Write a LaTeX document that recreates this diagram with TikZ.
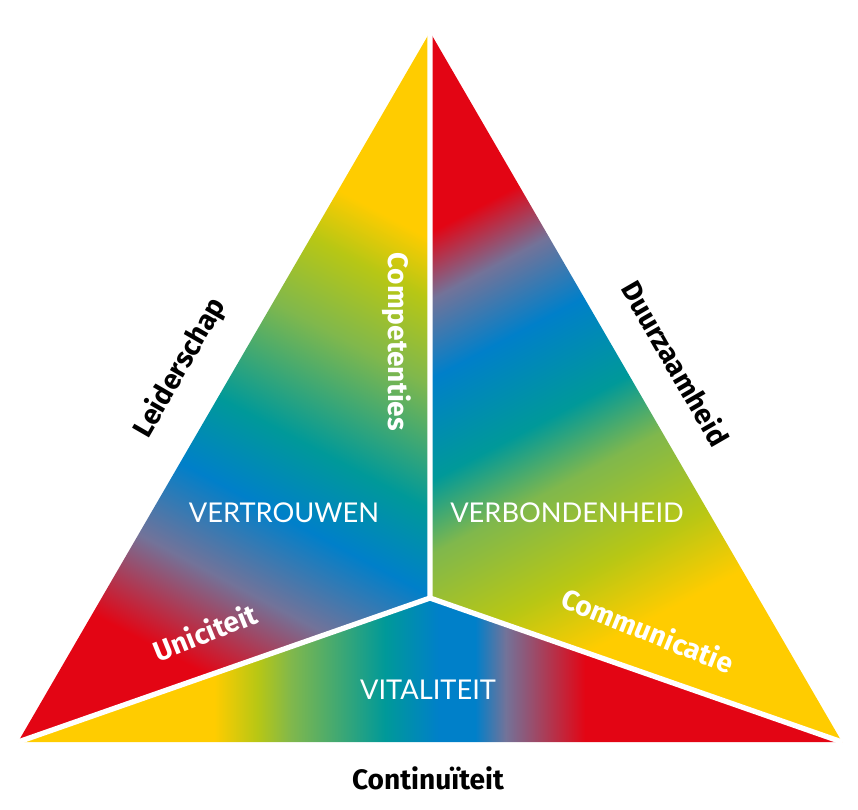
\documentclass[tikz,border=0pt]{standalone}
\usepackage{fontspec}
\setmainfont{Lato}
\newfontfamily\heavyfont{Fira Sans}
\usepackage{tikz}
\definecolor{triyellow}{rgb}{1.0,0.80,0.0}
\definecolor{trigreenyellow}{rgb}{0.72,0.78,0.08}
\definecolor{trigreen}{rgb}{0.50,0.72,0.30}
\definecolor{triteal}{rgb}{0.0,0.60,0.60}
\definecolor{triblue}{rgb}{0.0,0.50,0.79}
\definecolor{tripurple}{rgb}{0.45,0.45,0.60}
\definecolor{trired}{rgb}{0.89,0.02,0.08}
\pgfdeclarehorizontalshading{leftgrad}{100bp}{color(0bp)=(triyellow); color(36.7bp)=(triyellow); color(39.7bp)=(trigreenyellow); color(43.9bp)=(trigreen); color(50.0bp)=(triteal); color(54.2bp)=(triblue); color(58.8bp)=(tripurple); color(63.9bp)=(trired); color(100bp)=(trired)}
\pgfdeclarehorizontalshading{rightgrad}{100bp}{color(0bp)=(trired); color(36.4bp)=(trired); color(39.7bp)=(tripurple); color(43.6bp)=(triblue); color(48.6bp)=(triteal); color(52.2bp)=(trigreen); color(57.2bp)=(trigreenyellow); color(61.1bp)=(triyellow); color(100bp)=(triyellow)}
\pgfdeclarehorizontalshading{bottomgrad}{100bp}{color(0bp)=(triyellow); color(36.9bp)=(triyellow); color(39.3bp)=(trigreenyellow); color(41.2bp)=(trigreen); color(46.4bp)=(triteal); color(49.4bp)=(triblue); color(51.4bp)=(triblue); color(53.1bp)=(tripurple); color(57.5bp)=(trired); color(100bp)=(trired)}
\tikzset{
  divider/.style={white, line width=3pt},
  sidelabel/.style={font=\heavyfont\bfseries\fontsize{16}{18}\selectfont, text=black},
  innerlabel/.style={font=\heavyfont\bfseries\fontsize{16}{18}\selectfont, text=white},
  arealabel/.style={font=\fontsize{15.5}{18}\selectfont, text=white}
}

\begin{document}
\begin{tikzpicture}[x=0.02cm,y=-0.02cm]
\useasboundingbox (0,0) rectangle (858,809);
\coordinate (top) at (430,32);
\coordinate (bl) at (18,742);
\coordinate (br) at (842,742);
\coordinate (mid) at (430,598);
% three coloured parts
\begin{scope}
\clip (top) -- (bl) -- (mid) -- cycle;
\begin{scope}[transform canvas={rotate around={-118:(430,0)}}]
\shade[shading=leftgrad] (430,-1200) rectangle (1330,1200);
\end{scope}
\end{scope}
\begin{scope}
\clip (top) -- (mid) -- (br) -- cycle;
\begin{scope}[transform canvas={rotate around={-62:(430,0)}}]
\shade[shading=rightgrad] (430,-1200) rectangle (1330,1200);
\end{scope}
\end{scope}
\begin{scope}
\clip (bl) -- (br) -- (mid) -- cycle;
\shade[shading=bottomgrad] (0,500) rectangle (900,800);
\end{scope}
\draw[divider] (top) -- (mid) (mid) -- (bl) (mid) -- (br);
% labels
\node[sidelabel, rotate=60] (leiderschap) at (180,368) {Leiderschap};
\node[sidelabel, rotate=-60] (duurzaamheid) at (676,363) {Duurzaamheid};
\node[sidelabel] (continuiteit) at (428,778) {Continuïteit};
\node[innerlabel, rotate=-90] (competenties) at (397,342) {Competenties};
\node[innerlabel, rotate=22] (uniciteit) at (205,632) {Uniciteit};
\node[innerlabel, rotate=-22] (communicatie) at (648,630) {Communicatie};
\node[arealabel] (vertrouwen) at (284,513) {VERTROUWEN};
\node[arealabel] (verbondenheid) at (567,513) {VERBONDENHEID};
\node[arealabel] (vitaliteit) at (428,690) {VITALITEIT};
\end{tikzpicture}
\end{document}
